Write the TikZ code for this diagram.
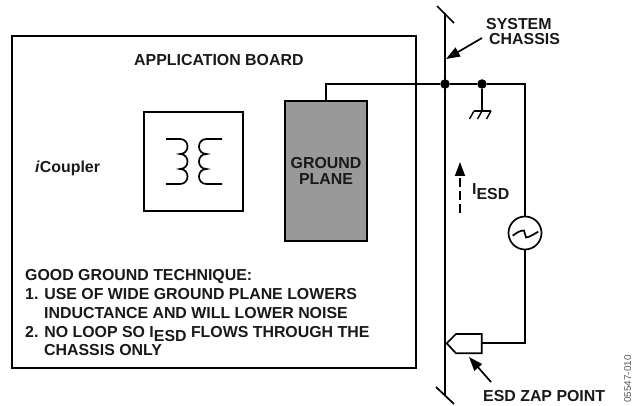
\documentclass[tikz,border=0pt]{standalone}
\usepackage{fontspec}
\setmainfont{Liberation Sans}
\usetikzlibrary{arrows.meta}
\newcommand{\esdsub}{\raisebox{-4.2pt}{ESD}}
\tikzset{
  wire/.style={line width=1.7pt,line join=miter},
  thin wire/.style={line width=1.4pt},
  lab/.style={font=\fontsize{15.9}{18}\selectfont\bfseries,anchor=base west,inner sep=0pt,text=black!90},
  pointer/.style={line width=1.7pt,-{Triangle[length=14pt,width=10pt]}},
  dot/.style={circle,fill=black,inner sep=0pt,minimum size=9.5pt},
  box/.style={draw,line width=1.7pt,inner sep=0pt}
}
\begin{document}
\begin{tikzpicture}[x=1pt,y=-1pt]
\useasboundingbox (0,0) rectangle (640,406);
\node[box,minimum width=404pt,minimum height=331.5pt,line width=2pt] (board) at (214,202.25) {};
\node[box,minimum width=99pt,minimum height=99pt] (xfmr) at (193.5,161.5) {};
\node[box,fill=black!40,minimum width=82pt,minimum height=140pt,
  font=\fontsize{15.9}{15.7}\selectfont\bfseries,align=center,text=black!90] (gp) at (326,171) {GROUND\\PLANE};
% transformer windings
\coordinate (la) at (166,139); \coordinate (lb) at (180,139); \coordinate (lc) at (180,154);
\coordinate (ld) at (180,169); \coordinate (le) at (180,184); \coordinate (lf) at (166,184);
\draw[wire] (la) -- (lb) .. controls (190,139) and (190,154) .. (lc)
  .. controls (190,154) and (190,169) .. (ld)
  .. controls (190,169) and (190,184) .. (le) -- (lf);
\coordinate (ra) at (222,139); \coordinate (rb) at (206.5,139); \coordinate (rc) at (206.5,154);
\coordinate (rd) at (206.5,169); \coordinate (re) at (206.5,184); \coordinate (rf) at (222,184);
\draw[wire] (ra) -- (rb) .. controls (196.5,139) and (196.5,154) .. (rc)
  .. controls (196.5,154) and (196.5,169) .. (rd)
  .. controls (196.5,169) and (196.5,184) .. (re) -- (rf);
% chassis
\coordinate (chtop) at (445,13); \coordinate (chbot) at (445,396);
\coordinate (tta) at (437,6); \coordinate (ttb) at (454,23);
\coordinate (bta) at (436,387); \coordinate (btb) at (454,404);
\draw[wire] (chtop) -- (chbot);
\draw[wire] (tta) -- (ttb);
\draw[wire] (bta) -- (btb);
% junctions and wiring
\node[dot] (j1) at (445,84) {};
\node[dot] (j2) at (482,84) {};
\coordinate (tr) at (525,84);
\node[draw,circle,line width=1.7pt,minimum size=33pt,inner sep=0pt] (src) at (525,233) {};
\draw[wire] (gp.north) |- (j1);
\draw[wire] (j1) -- (j2) -- (tr) -- (src.north);
% earth
\coordinate (ga) at (482,111); \coordinate (gl) at (474,111); \coordinate (gr) at (491,111);
\draw[thin wire] (j2) -- (ga);
\draw[thin wire] (gl) -- (gr);
\draw[thin wire] (gl) -- +(-4.5,8);
\draw[thin wire] (ga) -- +(-4.5,8);
\draw[thin wire] (gr) -- +(-4.5,8);
% source squiggle
\coordinate (sa) at (512.7,235.7); \coordinate (sb) at (538.3,231.7);
\draw[wire] (sa) .. controls (517,232.5) and (520,230.5) .. (524,230.5) -- (526,237.5)
  .. controls (530,237) and (534,234) .. (sb);
% probe
\coordinate (ptip) at (446.7,343.3); \coordinate (pt) at (456,334); \coordinate (ptr) at (481.7,334);
\coordinate (pbr) at (481.7,353.3); \coordinate (pb) at (456,353.3); \coordinate (pr) at (481.7,343.3);
\draw[wire] (ptip) -- (pt) -- (ptr) -- (pbr) -- (pb) -- cycle;
\draw[wire] (src.south) |- (pr);
% pointers
\coordinate (sysa) at (482,38); \coordinate (sysb) at (446,59);
\draw[pointer] (sysa) -- (sysb);
\coordinate (zapa) at (491,382); \coordinate (zapb) at (469,357);
\draw[pointer] (zapa) -- (zapb);
\coordinate (ia) at (460,213); \coordinate (ib) at (460,162);
\draw[line width=1.7pt,dash pattern=on 9pt off 4pt,-{Triangle[length=14pt,width=10pt]}] (ia) -- (ib);
% labels
\node[lab] (tboard) at (134,66) {APPLICATION BOARD};
\node[lab] (tic) at (35,172.5) {\textit{i}Coupler};
\node[lab] (tg1) at (25,280.7) {GOOD GROUND TECHNIQUE:};
\node[lab] (tg2) at (25,299.3) {1. USE OF WIDE GROUND PLANE LOWERS};
\node[lab] (tg3) at (44,318) {INDUCTANCE AND WILL LOWER NOISE};
\node[lab] (tg4) at (25,337) {2. NO LOOP SO I\esdsub{} FLOWS THROUGH THE};
\node[lab] (tg5) at (44,355.7) {CHASSIS ONLY};
\node[lab] (tsys) at (486,30) {SYSTEM};
\node[lab] (tcha) at (489,45) {CHASSIS};
\node[lab] (tzap) at (483,401.7) {ESD ZAP POINT};
\node[lab] (tiesd) at (472,195) {I\esdsub};
\node[font=\fontsize{9.9}{10}\selectfont,text=black!65,rotate=90,anchor=base west,inner sep=0pt] (tid) at (631,403) {05547-010};
\end{tikzpicture}
\end{document}
